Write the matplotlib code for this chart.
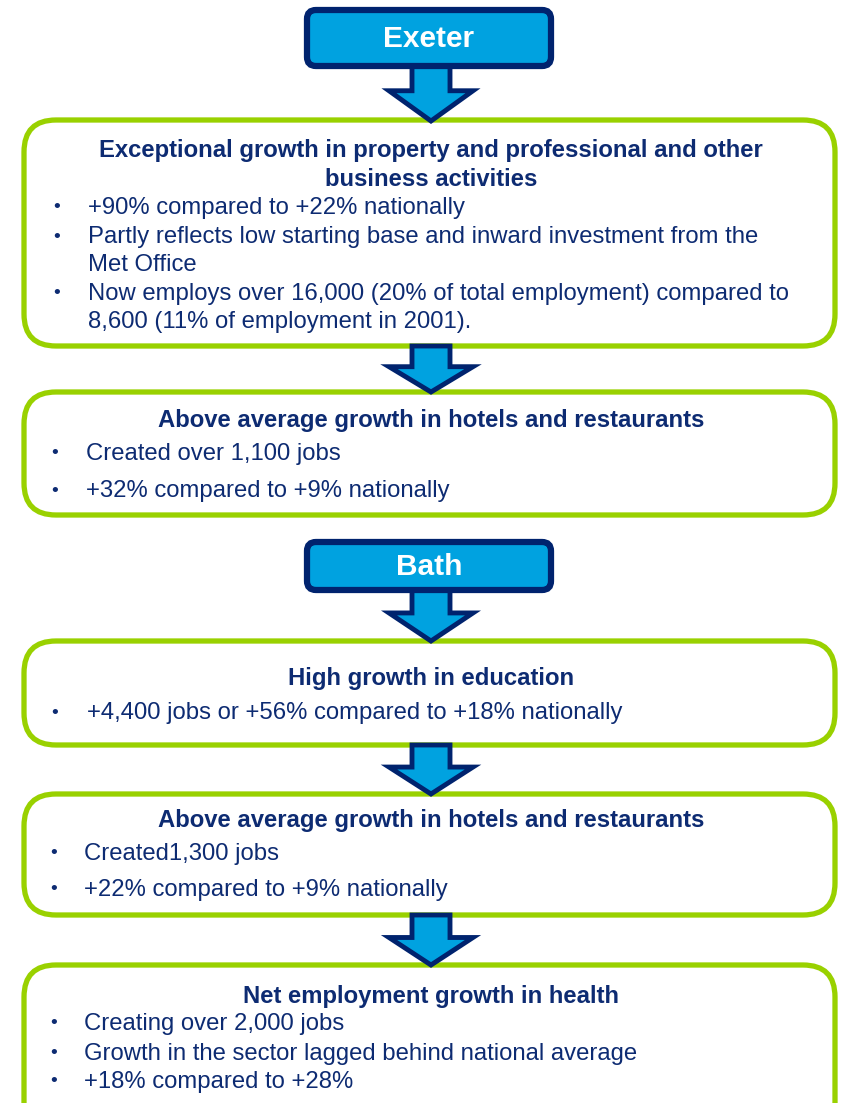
import matplotlib.pyplot as plt
from matplotlib.patches import FancyBboxPatch, Polygon

# colours
GREEN = '#99d100'
NAVY = '#0d2b72'
BLUE = '#00a2e0'
DARK = '#00236e'

# content
city_names = ['Exeter', 'Bath']
city_y = [38, 566]
city_h = [56, 48]

box_titles = [
    ['Exceptional growth in property and professional and other',
     'business activities'],
    ['Above average growth in hotels and restaurants'],
    ['High growth in education'],
    ['Above average growth in hotels and restaurants'],
    ['Net employment growth in health'],
]
box_bullets = [
    [['+90% compared to +22% nationally'],
     ['Partly reflects low starting base and inward investment from the',
      'Met Office'],
     ['Now employs over 16,000 (20% of total employment) compared to',
      '8,600 (11% of employment in 2001).']],
    [['Created over 1,100 jobs'], ['+32% compared to +9% nationally']],
    [['+4,400 jobs or +56% compared to +18% nationally']],
    [['Created1,300 jobs'], ['+22% compared to +9% nationally']],
    [['Creating over 2,000 jobs'],
     ['Growth in the sector lagged behind national average'],
     ['+18% compared to +28%']],
]

# layout (pixels, y downwards)
box_top = [120, 392, 641, 794, 965]
box_bot = [346, 515, 745, 915, 1140]
title_y = [[150, 179], [420], [679], [820], [997]]
line_y = [[208, 237, 265, 294, 322], [454, 491], [713], [854, 890],
          [1024, 1054, 1082]]
bullet_x = [57, 55, 55, 54, 54]
text_x = [88, 86, 87, 84, 84]
arrows = [(66, 121), (346, 392), (590, 641), (745, 794), (915, 965)]

W, H = 846, 1103
fig = plt.figure(figsize=(W / 100, H / 100), dpi=100)
ax = fig.add_axes([0, 0, 1, 1])
ax.set_xlim(0, W)
ax.set_ylim(H, 0)
ax.axis('off')

FONT = ['Liberation Sans', 'DejaVu Sans']
CX = 431


def down_arrow(y0, y1):
    sw, hw = 19, 42
    neck = y0 + (y1 - y0) * 0.45
    pts = [(CX - sw, y0), (CX + sw, y0), (CX + sw, neck), (CX + hw, neck),
           (CX, y1), (CX - hw, neck), (CX - sw, neck)]
    ax.add_patch(Polygon(pts, closed=True, facecolor=BLUE, edgecolor=DARK,
                         lw=3.5, joinstyle='miter', zorder=3))


for i in range(len(box_titles)):
    ax.add_patch(FancyBboxPatch((24, box_top[i]), 811, box_bot[i] - box_top[i],
                                boxstyle='round,pad=0,rounding_size=32',
                                facecolor='white', edgecolor=GREEN, lw=3.8,
                                zorder=2))
    for t, y in zip(box_titles[i], title_y[i]):
        ax.text(CX, y, t, ha='center', va='center', fontsize=17.2,
                fontweight='bold', color=NAVY, family=FONT, zorder=4)
    k = 0
    for item in box_bullets[i]:
        ax.text(bullet_x[i], line_y[i][k], '\u2022', ha='center', va='center',
                fontsize=14, color=NAVY, family=FONT, zorder=4)
        for line in item:
            ax.text(text_x[i], line_y[i][k], line, ha='left', va='center',
                    fontsize=17.2, color=NAVY, family=FONT, zorder=4)
            k += 1

for name, y, h in zip(city_names, city_y, city_h):
    ax.add_patch(FancyBboxPatch((307, y - h / 2), 244, h,
                                boxstyle='round,pad=0,rounding_size=9',
                                facecolor=BLUE, edgecolor=DARK, lw=4.5,
                                zorder=5))
    ax.text(CX - 2, y + 1, name, ha='center', va='center', fontsize=21.5,
            fontweight='bold', color='white', family=FONT, zorder=6)

for y0, y1 in arrows:
    down_arrow(y0, y1)

fig.savefig('out.png', dpi=100)
